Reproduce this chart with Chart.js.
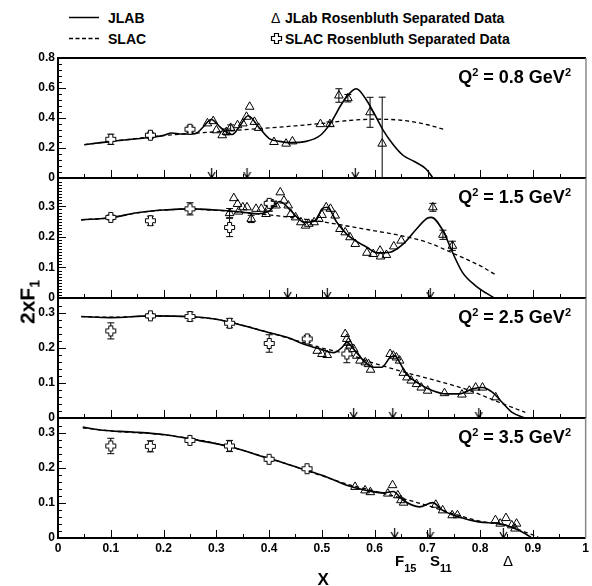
<!DOCTYPE html>
<html>
<head>
<meta charset="utf-8">
<script src="https://cdn.jsdelivr.net/npm/chart.js@4.4.1/dist/chart.umd.min.js"></script>
<style>
  body { margin: 0; background: #fff; }
  #wrap { position: relative; width: 592px; height: 586px; overflow: hidden; font-family: 'Liberation Sans', Arial, sans-serif; color: #000; }
  #wrap canvas { position: absolute; left: 0; }
  .txt { position: absolute; font-weight: bold; white-space: nowrap; }
  .leg { font-size: 14px; line-height: 14px; }
  .q2 { font-size: 18px; line-height: 18px; right: 21px; }
  .q2 sup { font-size: 11px; line-height: 0; vertical-align: 7px; }
  .res { font-size: 15px; line-height: 15px; top: 553px; }
  .res sub { font-size: 11px; line-height: 0; vertical-align: -6px; }
  #ylab { left: 27px; top: 302px; font-size: 21px; line-height: 21px; transform: translate(-50%, -50%) rotate(-90deg); }
  #ylab sub { font-size: 14px; line-height: 0; vertical-align: -5px; }
</style>
</head>
<body>
<div id="wrap">
  <svg width="592" height="50" style="position:absolute;left:0;top:0">
    <line x1="69" y1="17.5" x2="99" y2="17.5" stroke="#000" stroke-width="1.5"/>
    <line x1="69" y1="38.5" x2="99" y2="38.5" stroke="#000" stroke-width="1.5" stroke-dasharray="4 2.5"/>
    <path d="M274.5 33.5 H278.5 V36.5 H281.5 V40.5 H278.5 V43.5 H274.5 V40.5 H271.5 V36.5 H274.5 Z" fill="#fff" stroke="#000" stroke-width="1.2"/>
  </svg>
  <span class="txt leg" style="left:108px;top:10.6px">JLAB</span>
  <span class="txt leg" style="left:108px;top:31.6px">SLAC</span>
  <span class="txt leg" style="left:271px;top:10.6px;font-weight:normal">&Delta;</span>
  <span class="txt leg" style="left:285px;top:10.6px">JLab Rosenbluth Separated Data</span>
  <span class="txt leg" style="left:285px;top:31.6px">SLAC Rosenbluth Separated Data</span>
</div>
<script>
// Panel 1 (Q2 = 0.8)
const p1JlabX = [0.05, 0.1, 0.15, 0.2, 0.215, 0.235, 0.26, 0.275, 0.29, 0.31, 0.33, 0.345, 0.36, 0.38, 0.4, 0.42, 0.44, 0.47, 0.497, 0.516, 0.538, 0.557, 0.565, 0.582, 0.597, 0.616, 0.635, 0.654, 0.675, 0.697, 0.71];
const p1JlabY = [0.222, 0.244, 0.262, 0.284, 0.3, 0.293, 0.296, 0.34, 0.39, 0.33, 0.29, 0.35, 0.415, 0.34, 0.263, 0.244, 0.236, 0.244, 0.285, 0.364, 0.498, 0.581, 0.595, 0.532, 0.442, 0.318, 0.222, 0.15, 0.11, 0.06, 0.0];
const p1SlacX = [0.05, 0.1, 0.15, 0.2, 0.25, 0.3, 0.35, 0.4, 0.45, 0.5, 0.55, 0.6, 0.65, 0.7, 0.73];
const p1SlacY = [0.222, 0.244, 0.264, 0.283, 0.297, 0.308, 0.322, 0.334, 0.348, 0.364, 0.383, 0.392, 0.385, 0.355, 0.325];
const p1TriX = [0.283, 0.294, 0.3, 0.311, 0.319, 0.327, 0.34, 0.35, 0.357, 0.363, 0.372, 0.38, 0.409, 0.432, 0.444, 0.497, 0.515, 0.532, 0.549, 0.591, 0.614];
const p1TriY = [0.364, 0.379, 0.318, 0.285, 0.307, 0.334, 0.352, 0.364, 0.408, 0.475, 0.374, 0.334, 0.24, 0.229, 0.244, 0.359, 0.359, 0.55, 0.532, 0.438, 0.229];
const p1TriErr = [0, 0, 0, 0, 0.02, 0.02, 0, 0, 0, 0, 0, 0, 0, 0, 0, 0, 0.015, 0.045, 0.025, 0.1, 0.31];
const p1CrossX = [0.1, 0.175, 0.25];
const p1CrossY = [0.258, 0.285, 0.325];
const p1CrossErr = [0.034, 0.02, 0.022];
const p1Arrows = [0.291, 0.358, 0.563];

// Panel 2 (Q2 = 1.5)
const p2JlabX = [0.044, 0.1, 0.15, 0.2, 0.25, 0.3, 0.35, 0.38, 0.4, 0.42, 0.435, 0.453, 0.466, 0.488, 0.5, 0.51, 0.528, 0.55, 0.585, 0.604, 0.629, 0.654, 0.679, 0.7, 0.707, 0.729, 0.747, 0.766, 0.791, 0.826];
const p2JlabY = [0.256, 0.263, 0.279, 0.288, 0.292, 0.288, 0.281, 0.276, 0.285, 0.316, 0.297, 0.264, 0.248, 0.253, 0.292, 0.297, 0.248, 0.204, 0.166, 0.148, 0.15, 0.177, 0.226, 0.262, 0.264, 0.221, 0.15, 0.084, 0.04, 0.0];
const p2SlacX = [0.044, 0.1, 0.15, 0.2, 0.25, 0.3, 0.35, 0.4, 0.45, 0.5, 0.55, 0.6, 0.65, 0.7, 0.75, 0.8, 0.83];
const p2SlacY = [0.256, 0.263, 0.279, 0.288, 0.291, 0.287, 0.28, 0.272, 0.262, 0.25, 0.235, 0.22, 0.204, 0.182, 0.145, 0.105, 0.075];
const p2TriX = [0.325, 0.333, 0.34, 0.342, 0.35, 0.358, 0.366, 0.375, 0.385, 0.394, 0.398, 0.407, 0.413, 0.421, 0.428, 0.436, 0.441, 0.45, 0.46, 0.469, 0.475, 0.485, 0.494, 0.5, 0.508, 0.516, 0.525, 0.534, 0.544, 0.553, 0.563, 0.585, 0.597, 0.61, 0.611, 0.622, 0.636, 0.65, 0.71, 0.729, 0.747];
const p2TriY = [0.278, 0.327, 0.308, 0.283, 0.297, 0.297, 0.259, 0.292, 0.292, 0.275, 0.292, 0.308, 0.303, 0.346, 0.319, 0.303, 0.275, 0.264, 0.248, 0.237, 0.243, 0.248, 0.259, 0.272, 0.297, 0.292, 0.27, 0.226, 0.215, 0.199, 0.177, 0.148, 0.144, 0.155, 0.136, 0.141, 0.169, 0.188, 0.297, 0.207, 0.171];
const p2TriErr = [0.015, 0, 0, 0, 0, 0, 0.012, 0, 0, 0, 0, 0, 0, 0, 0, 0, 0, 0, 0, 0, 0, 0, 0, 0, 0, 0, 0, 0, 0, 0, 0, 0, 0, 0, 0, 0, 0, 0, 0.013, 0.015, 0.015];
const p2CrossX = [0.1, 0.175, 0.25, 0.325, 0.4];
const p2CrossY = [0.264, 0.253, 0.292, 0.231, 0.31];
const p2CrossErr = [0.008, 0.015, 0.02, 0.03, 0.01];
const p2Arrows = [0.435, 0.51, 0.705];

// Panel 3 (Q2 = 2.5)
const p3JlabX = [0.044, 0.1, 0.175, 0.25, 0.297, 0.328, 0.397, 0.435, 0.466, 0.497, 0.522, 0.538, 0.547, 0.56, 0.579, 0.597, 0.613, 0.629, 0.638, 0.647, 0.66, 0.685, 0.71, 0.735, 0.76, 0.785, 0.804, 0.823, 0.841, 0.86, 0.885];
const p3JlabY = [0.29, 0.287, 0.292, 0.29, 0.283, 0.273, 0.245, 0.23, 0.211, 0.197, 0.187, 0.202, 0.216, 0.197, 0.164, 0.145, 0.145, 0.173, 0.178, 0.159, 0.126, 0.097, 0.078, 0.069, 0.069, 0.083, 0.087, 0.073, 0.045, 0.016, 0.0];
const p3SlacX = [0.044, 0.1, 0.175, 0.25, 0.3, 0.35, 0.4, 0.45, 0.5, 0.55, 0.6, 0.654, 0.716, 0.779, 0.835, 0.885];
const p3SlacY = [0.29, 0.288, 0.291, 0.289, 0.282, 0.265, 0.244, 0.222, 0.2, 0.182, 0.156, 0.132, 0.107, 0.079, 0.045, 0.016];
const p3TriX = [0.491, 0.5, 0.51, 0.544, 0.547, 0.55, 0.553, 0.56, 0.566, 0.572, 0.582, 0.588, 0.592, 0.629, 0.635, 0.641, 0.647, 0.654, 0.661, 0.669, 0.679, 0.688, 0.7, 0.732, 0.765, 0.779, 0.791, 0.804, 0.829];
const p3TriY = [0.192, 0.183, 0.18, 0.24, 0.226, 0.216, 0.207, 0.197, 0.178, 0.164, 0.159, 0.154, 0.138, 0.183, 0.178, 0.173, 0.164, 0.129, 0.116, 0.107, 0.097, 0.087, 0.078, 0.071, 0.067, 0.078, 0.087, 0.087, 0.059];
const p3TriErr = [];
const p3CrossX = [0.1, 0.175, 0.25, 0.325, 0.4, 0.472, 0.547];
const p3CrossY = [0.249, 0.292, 0.29, 0.271, 0.213, 0.226, 0.183];
const p3CrossErr = [0.023, 0.006, 0.013, 0.013, 0.025, 0.01, 0.025];
const p3Arrows = [0.56, 0.634, 0.797];

// Panel 4 (Q2 = 3.5)
const p4JlabX = [0.047, 0.084, 0.141, 0.203, 0.266, 0.328, 0.391, 0.435, 0.472, 0.51, 0.547, 0.585, 0.616, 0.635, 0.654, 0.685, 0.71, 0.729, 0.76, 0.797, 0.835, 0.86, 0.885, 0.898];
const p4JlabY = [0.317, 0.308, 0.303, 0.295, 0.279, 0.26, 0.231, 0.211, 0.193, 0.174, 0.151, 0.136, 0.129, 0.133, 0.108, 0.089, 0.101, 0.079, 0.06, 0.046, 0.041, 0.031, 0.013, 0.0];
const p4SlacX = [0.047, 0.1, 0.2, 0.3, 0.4, 0.5, 0.55, 0.6, 0.65, 0.7, 0.75, 0.8, 0.85, 0.88, 0.91];
const p4SlacY = [0.315, 0.306, 0.295, 0.27, 0.228, 0.178, 0.153, 0.134, 0.114, 0.093, 0.069, 0.048, 0.036, 0.02, 0.003];
const p4TriX = [0.563, 0.582, 0.592, 0.625, 0.634, 0.644, 0.65, 0.655, 0.716, 0.729, 0.747, 0.757, 0.829, 0.838, 0.849, 0.86, 0.866, 0.869];
const p4TriY = [0.146, 0.136, 0.131, 0.127, 0.151, 0.122, 0.108, 0.101, 0.095, 0.079, 0.065, 0.065, 0.051, 0.041, 0.057, 0.036, 0.027, 0.041];
const p4TriErr = [];
const p4CrossX = [0.1, 0.175, 0.25, 0.325, 0.4, 0.472];
const p4CrossY = [0.263, 0.262, 0.279, 0.263, 0.225, 0.198];
const p4CrossErr = [0.022, 0.016, 0.006, 0.016, 0.006, 0.004];
const p4Arrows = [0.638, 0.705, 0.844];

// Axis ranges and labels
const q2Labels = ["0.8", "1.5", "2.5", "3.5"];
const yMax = [0.8, 0.393, 0.343, 0.343];
const yStep = [0.2, 0.1, 0.1, 0.1];
const yMinor = [0.04, 0.01, 0.02, 0.02];

// Layout
const panelTops = [58, 178, 298, 418];
const panelH = 120;
const padTop = 12;

Chart.defaults.font.family = "'Liberation Sans', Arial, sans-serif";
Chart.defaults.color = "#000";

const pts = (xs, ys) => xs.map((x, i) => ({ x, y: ys[i] }));
function errPts(xs, ys, es) {
    const out = [];
    xs.forEach((x, i) => {
        if (!es[i]) return;
        out.push({ x, y: ys[i] - es[i] }, { x, y: ys[i] + es[i] }, { x, y: null });
    });
    return out;
}
const fmt = v => String(Math.round(v * 10) / 10);

// Hollow cross marker
const crossImg = document.createElement("canvas");
crossImg.width = 13; crossImg.height = 13;
(function () {
    const g = crossImg.getContext("2d");
    const c = 6.5, a = 2, b = 5;
    g.beginPath();
    g.moveTo(c - a, c - b); g.lineTo(c + a, c - b); g.lineTo(c + a, c - a); g.lineTo(c + b, c - a);
    g.lineTo(c + b, c + a); g.lineTo(c + a, c + a); g.lineTo(c + a, c + b); g.lineTo(c - a, c + b);
    g.lineTo(c - a, c + a); g.lineTo(c - b, c + a); g.lineTo(c - b, c - a); g.lineTo(c - a, c - a);
    g.closePath();
    g.fillStyle = "#fff"; g.fill();
    g.strokeStyle = "#000"; g.lineWidth = 1; g.stroke();
})();

// Down arrow marker, tip at the image centre
const arrowImg = document.createElement("canvas");
arrowImg.width = 9; arrowImg.height = 22;
(function () {
    const g = arrowImg.getContext("2d");
    g.strokeStyle = "#000"; g.lineWidth = 1.2;
    g.beginPath();
    g.moveTo(4.5, 1); g.lineTo(4.5, 11);
    g.moveTo(1, 5); g.lineTo(4.5, 11); g.lineTo(8, 5);
    g.stroke();
})();

// Frame and inner tick marks (ROOT style)
const frame = {
    id: "frame",
    afterDatasetsDraw(chart, args, opts) {
        const { ctx, chartArea: a, scales: { x, y } } = chart;
        ctx.save();
        ctx.strokeStyle = "#000";
        ctx.lineWidth = 1;
        ctx.beginPath();
        for (let k = 1; k < 20; k++) {
            const px = Math.round(x.getPixelForValue(k / 20)) + 0.5;
            const len = k % 2 ? 4 : 8;
            ctx.moveTo(px, a.bottom); ctx.lineTo(px, a.bottom - len);
        }
        const n = Math.floor(y.max / opts.minor + 1e-6);
        const every = Math.round(opts.major / opts.minor);
        for (let k = 1; k <= n; k++) {
            const py = Math.round(y.getPixelForValue(k * opts.minor)) + 0.5;
            if (py < a.top + 2) continue;
            const len = k % every ? 4 : 8;
            ctx.moveTo(a.left, py); ctx.lineTo(a.left + len, py);
        }
        ctx.stroke();
        ctx.lineWidth = 2;
        ctx.beginPath();
        ctx.moveTo(a.right, a.top); ctx.lineTo(a.left, a.top); ctx.lineTo(a.left, a.bottom); ctx.lineTo(a.right, a.bottom);
        ctx.stroke();
        ctx.strokeStyle = "#888";
        ctx.lineWidth = 1.5;
        ctx.beginPath();
        ctx.moveTo(a.right, a.top); ctx.lineTo(a.right, a.bottom);
        ctx.stroke();
        ctx.restore();
    }
};

const panels = [
    { jlab: [p1JlabX, p1JlabY], slac: [p1SlacX, p1SlacY], tri: [p1TriX, p1TriY, p1TriErr], cross: [p1CrossX, p1CrossY, p1CrossErr], arrows: p1Arrows },
    { jlab: [p2JlabX, p2JlabY], slac: [p2SlacX, p2SlacY], tri: [p2TriX, p2TriY, p2TriErr], cross: [p2CrossX, p2CrossY, p2CrossErr], arrows: p2Arrows },
    { jlab: [p3JlabX, p3JlabY], slac: [p3SlacX, p3SlacY], tri: [p3TriX, p3TriY, p3TriErr], cross: [p3CrossX, p3CrossY, p3CrossErr], arrows: p3Arrows },
    { jlab: [p4JlabX, p4JlabY], slac: [p4SlacX, p4SlacY], tri: [p4TriX, p4TriY, p4TriErr], cross: [p4CrossX, p4CrossY, p4CrossErr], arrows: p4Arrows }
];

const wrap = document.getElementById("wrap");
const tickFont = { size: 12, weight: "bold" };

panels.forEach((p, i) => {
    const last = i === panels.length - 1;
    const canvas = document.createElement("canvas");
    canvas.width = 592;
    canvas.height = padTop + panelH + (last ? 28 : 12);
    canvas.style.top = (panelTops[i] - padTop) + "px";
    wrap.appendChild(canvas);

    const errData = errPts(...p.cross).concat(errPts(...p.tri));

    new Chart(canvas.getContext("2d"), {
        data: {
            datasets: [
                { type: "scatter", data: pts(p.cross[0], p.cross[1]), pointStyle: crossImg, pointRadius: 5, borderColor: "#000", order: 0 },
                { type: "scatter", data: pts(p.tri[0], p.tri[1]), pointStyle: "triangle", pointRadius: 5, borderColor: "#000", backgroundColor: "rgba(0,0,0,0)", borderWidth: 1, order: 1 },
                { type: "line", data: errData, borderColor: "#000", borderWidth: 1, pointStyle: "line", pointRadius: 3.5, pointBorderColor: "#000", pointBorderWidth: 1, spanGaps: false, order: 2 },
                { type: "line", data: pts(...p.jlab), borderColor: "#000", borderWidth: 1.6, pointRadius: 0, cubicInterpolationMode: "monotone", order: 3 },
                { type: "line", data: pts(...p.slac), borderColor: "#000", borderWidth: 1.3, borderDash: [4, 3], pointRadius: 0, cubicInterpolationMode: "monotone", order: 4 },
                { type: "scatter", data: p.arrows.map(x => ({ x, y: 0 })), pointStyle: arrowImg, pointRadius: 5, borderColor: "#000", order: 5 }
            ]
        },
        options: {
            responsive: false,
            animation: false,
            events: [],
            layout: { padding: { top: padTop, bottom: last ? 0 : 12, left: 0, right: 4 } },
            plugins: {
                legend: { display: false },
                tooltip: { enabled: false },
                colors: { enabled: false },
                frame: { minor: yMinor[i], major: yStep[i] }
            },
            scales: {
                x: {
                    type: "linear", min: 0, max: 1, display: last,
                    grid: { display: false, drawTicks: false }, border: { display: false },
                    ticks: { stepSize: 0.1, padding: 3, maxRotation: 0, autoSkip: false, font: tickFont, callback: fmt },
                    afterFit: s => { s.height = last ? 28 : 0; }
                },
                y: {
                    min: 0, max: yMax[i],
                    grid: { display: false, drawTicks: false }, border: { display: false },
                    ticks: { stepSize: yStep[i], includeBounds: false, padding: 3, font: tickFont, callback: fmt },
                    afterFit: s => { s.width = 58; }
                }
            }
        },
        plugins: [frame]
    });

    const q = document.createElement("div");
    q.className = "txt q2";
    q.style.top = (panelTops[i] + 9.5) + "px";
    q.innerHTML = "Q<sup>2</sup> = " + q2Labels[i] + " GeV<sup>2</sup>";
    wrap.appendChild(q);
});

// Axis titles and resonance labels
const extra = [
    ["txt", "ylab", "2xF<sub>1</sub>", ""],
    ["txt res", "", "F<sub>15</sub>", "left:395px"],
    ["txt res", "", "S<sub>11</sub>", "left:430px"],
    ["txt res", "", "&Delta;", "left:503px;font-weight:normal"],
    ["txt", "", "X", "left:317.5px;top:570.5px;font-size:17px;line-height:17px"]
];
extra.forEach(([cls, id, html, style]) => {
    const d = document.createElement("div");
    d.className = cls;
    if (id) d.id = id;
    d.innerHTML = html;
    d.style.cssText += style;
    wrap.appendChild(d);
});
</script>
</body>
</html>
